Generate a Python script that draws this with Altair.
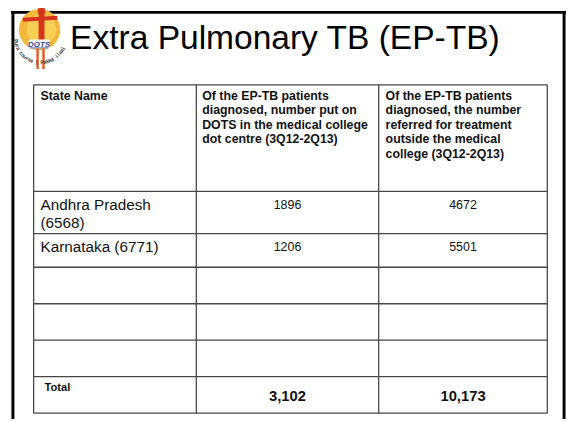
import altair as alt
import numpy as np
import pandas as pd

# ---------------- data ----------------
TITLE = "Extra Pulmonary TB (EP-TB)"
HEADERS = [
    "State Name",
    "Of the EP-TB patients\ndiagnosed, number put on\nDOTS in the medical college\ndot centre (3Q12-2Q13)",
    "Of the EP-TB patients\ndiagnosed, the number\nreferred for treatment\noutside the medical\ncollege (3Q12-2Q13)",
]
STATES = ["Andhra Pradesh\n(6568)", "Karnataka (6771)", "", "", ""]
PUT_ON_DOTS = [1896, 1206, None, None, None]
REFERRED_OUT = [4672, 5501, None, None, None]
TOTAL_LABEL = "Total"
TOTAL_PUT_ON_DOTS = 3102
TOTAL_REFERRED_OUT = 10173
LOGO_TEXT = "DOTS"
LOGO_MOTTO = "Pura course | Pakka ilaaj"

# ---------------- layout (chart pixel units, y downwards) ----------------
W, H = 569, 414
COL_EDGES = [26, 191, 376, 547]
ROW_EDGES = [75, 183, 226, 260, 297, 334, 371, 408]
FONT = "Liberation Sans, Arial, Helvetica, sans-serif"
GRID = "#474747"

XS = alt.Scale(domain=[0, W], nice=False, zero=False)
YS = alt.Scale(domain=[0, H], nice=False, zero=False, reverse=True)


def X(f="x"):
    return alt.X(f"{f}:Q", scale=XS, axis=None)


def Y(f="y"):
    return alt.Y(f"{f}:Q", scale=YS, axis=None)


def rules(df, **mk):
    enc = dict(x=X(), y=Y())
    if "x2" in df:
        enc["x2"] = alt.X2("x2:Q")
    if "y2" in df:
        enc["y2"] = alt.Y2("y2:Q")
    return alt.Chart(df).mark_rule(**mk).encode(**enc)


def texts(df, **mk):
    enc = dict(x=X(), y=Y(), text="t:N")
    if "a" in df:
        enc["angle"] = alt.Angle("a:Q", scale=None)
    return alt.Chart(df).mark_text(font=FONT, lineBreak="\n", **mk).encode(**enc)


layers = []

# slide frame
frame = pd.DataFrame({
    "x": [5, 564, 3], "x2": [5, 564, 566],
    "y": [0, 0, 1.5], "y2": [H, H, 1.5],
})
layers.append(rules(frame, color="black", strokeWidth=3))

# ---- logo ----
layers.append(alt.Chart(pd.DataFrame({"x": [32], "y": [19]})).mark_point(
    filled=True, shape="circle", size=1764, color="#F2B83C", opacity=1).encode(x=X(), y=Y()))
layers.append(alt.Chart(pd.DataFrame({"x": [34], "y": [19]})).mark_point(
    filled=True, shape="circle", size=900, color="#F7CF55", opacity=1).encode(x=X(), y=Y()))
legs = pd.DataFrame({"x": [30, 36], "x2": [30, 36], "y": [38, 38], "y2": [59, 59]})
layers.append(rules(legs, color="#E0602C", strokeWidth=2.5))
body = pd.DataFrame({"x": [34], "x2": [34], "y": [2], "y2": [34]})
layers.append(rules(body, color="#D4351C", strokeWidth=6))
arms = pd.DataFrame({"x": [15], "x2": [50], "y": [9], "y2": [7]})
layers.append(rules(arms, color="#D4351C", strokeWidth=4))
layers.append(alt.Chart(pd.DataFrame({"x": [34], "y": [0]})).mark_point(
    filled=True, shape="circle", size=60, color="#D4351C", opacity=1).encode(x=X(), y=Y()))
layers.append(alt.Chart(pd.DataFrame({"x": [21], "x2": [42], "y": [29], "y2": [38]})).mark_rect(
    color="white").encode(x=X(), x2=alt.X2("x2:Q"), y=Y(), y2=alt.Y2("y2:Q")))
layers.append(texts(pd.DataFrame({"x": [31.5], "y": [36.5], "t": [LOGO_TEXT]}),
                    align="center", baseline="alphabetic", fontSize=8, fontWeight="bold",
                    fontStyle="italic", color="#2A4A9A"))
layers.append(rules(pd.DataFrame({"x": [22], "x2": [41], "y": [37.5], "y2": [37.5]}),
                    color="#2A4A9A", strokeWidth=0.8))
# motto along the lower-left arc of the emblem
n = len(LOGO_MOTTO)
theta = np.linspace(172, 25, n)
cx, cy, r = 33, 27, 25
motto = pd.DataFrame({
    "x": cx + r * np.cos(np.radians(theta)),
    "y": cy + r * np.sin(np.radians(theta)),
    "t": list(LOGO_MOTTO),
    "a": (theta - 90) % 360,
})
layers.append(texts(motto, align="center", baseline="middle", fontSize=5.5,
                    fontWeight="bold", color="#3A3A3A"))

# ---- title ----
layers.append(texts(pd.DataFrame({"x": [63], "y": [39], "t": [TITLE]}),
                    align="left", baseline="alphabetic", fontSize=34, color="black"))

# ---- table grid ----
hl = pd.DataFrame({"y": ROW_EDGES, "y2": ROW_EDGES,
                   "x": [COL_EDGES[0]] * len(ROW_EDGES), "x2": [COL_EDGES[-1]] * len(ROW_EDGES)})
vl = pd.DataFrame({"x": COL_EDGES, "x2": COL_EDGES,
                   "y": [ROW_EDGES[0]] * len(COL_EDGES), "y2": [ROW_EDGES[-1]] * len(COL_EDGES)})
layers.append(rules(hl, color=GRID, strokeWidth=1.3))
layers.append(rules(vl, color=GRID, strokeWidth=1.3))

# ---- header ----
hdr_x = [COL_EDGES[0] + 7, COL_EDGES[1] + 6, COL_EDGES[2] + 7]
layers.append(texts(pd.DataFrame({"x": hdr_x, "y": [ROW_EDGES[0] + 15] * 3, "t": HEADERS}),
                    align="left", baseline="alphabetic", fontSize=12.5, fontWeight="bold",
                    lineHeight=14.7, color="#111111"))

# ---- body rows ----
row_tops = ROW_EDGES[1:1 + len(STATES)]
st = pd.DataFrame({"x": [COL_EDGES[0] + 7] * len(STATES),
                   "y": [t + 18.8 for t in row_tops], "t": STATES})
st = st[st["t"] != ""]
layers.append(texts(st, align="left", baseline="alphabetic", fontSize=15.5,
                    lineHeight=18.5, color="#111111"))

c2 = (COL_EDGES[1] + COL_EDGES[2]) / 2
c3 = (COL_EDGES[2] + COL_EDGES[3]) / 2
num_rows = []
for top, a, b in zip(row_tops, PUT_ON_DOTS, REFERRED_OUT):
    if a is not None:
        num_rows.append({"x": c2, "y": top + 18, "t": str(a)})
    if b is not None:
        num_rows.append({"x": c3, "y": top + 18, "t": str(b)})
layers.append(texts(pd.DataFrame(num_rows), align="center", baseline="alphabetic",
                    fontSize=12.6, color="#111111"))

# ---- total row ----
ttop = ROW_EDGES[-2]
layers.append(texts(pd.DataFrame({"x": [COL_EDGES[0] + 11], "y": [ttop + 14.7], "t": [TOTAL_LABEL]}),
                    align="left", baseline="alphabetic", fontSize=11.3, fontWeight="bold",
                    color="#111111"))
layers.append(texts(pd.DataFrame({"x": [c2, c3], "y": [ttop + 24.5] * 2,
                                  "t": [f"{TOTAL_PUT_ON_DOTS:,}", f"{TOTAL_REFERRED_OUT:,}"]}),
                    align="center", baseline="alphabetic", fontSize=15, fontWeight="bold",
                    color="#111111"))

chart = alt.layer(*layers).properties(
    width=W, height=H, padding=0, autosize="none", background="white"
).configure_view(stroke=None)

chart.save("out.html", embed_options={"renderer": "svg", "actions": False})
